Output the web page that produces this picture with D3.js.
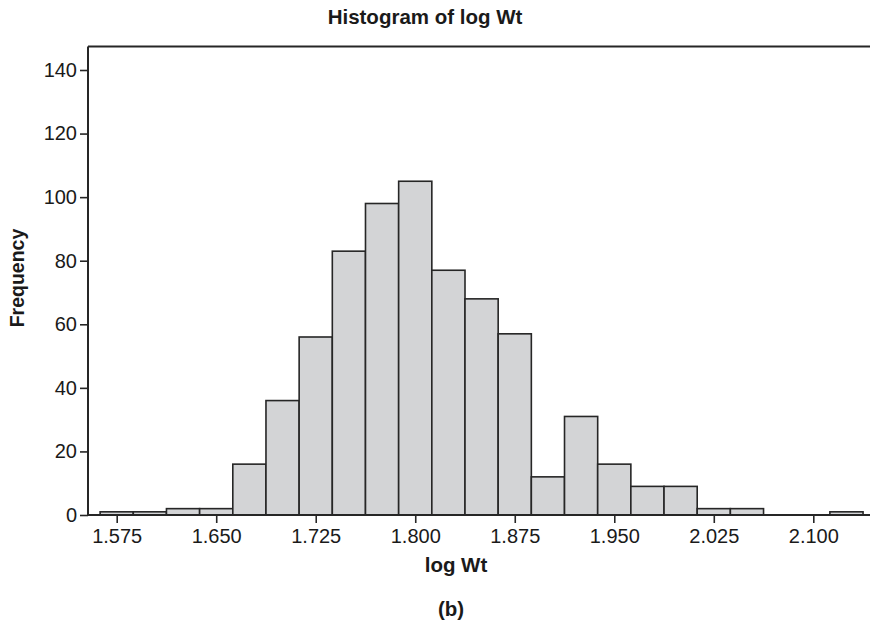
<!DOCTYPE html>
<html><head><meta charset="utf-8">
<script src="https://cdn.jsdelivr.net/npm/d3@7"></script>
<style>body{margin:0;background:#fff}svg{display:block}text{font-family:"Liberation Sans",Arial,Helvetica,sans-serif;fill:#1a1a1a}</style>
</head><body><svg id="c" width="870" height="626"></svg>
<script>
const binCenters = [1.575,1.600,1.625,1.650,1.675,1.700,1.725,1.750,1.775,1.800,1.825,1.850,1.875,1.900,1.925,1.950,1.975,2.000,2.025,2.050,2.075,2.100,2.125];
const frequencies = [1,1,2,2,16,36,56,83,98,105,77,68,57,12,31,16,9,9,2,2,0,0,1];
const xTicks = [1.575,1.650,1.725,1.800,1.875,1.950,2.025,2.100];
const yTicks = [0,20,40,60,80,100,120,140];
const binWidth = 0.025;

const svg = d3.select("#c");
const x = d3.scaleLinear().domain([1.575,2.100]).range([116.7,813.3]);
const y = d3.scaleLinear().domain([0,140]).range([515,70]);
const plotLeft = 88, plotTop = 46.5, plotRight = 870;

// bars
svg.append("g").selectAll("rect").data(binCenters.map((c,i)=>({c,f:frequencies[i]})))
  .join("rect")
  .attr("x", d=>x(d.c-binWidth/2))
  .attr("width", d=>x(d.c+binWidth/2)-x(d.c-binWidth/2))
  .attr("y", d=>y(d.f))
  .attr("height", d=>y(0)-y(d.f))
  .attr("fill","#d3d4d6")
  .attr("stroke","#262626")
  .attr("stroke-width",1.6);

// frame top
svg.append("line").attr("x1",plotLeft).attr("x2",plotRight).attr("y1",plotTop).attr("y2",plotTop)
  .attr("stroke","#262626").attr("stroke-width",2);

// y axis
const ya = svg.append("g").attr("transform",`translate(${plotLeft},0)`)
  .call(d3.axisLeft(y).tickValues(yTicks).tickSize(8).tickPadding(3).tickFormat(d3.format("d")));
ya.select(".domain").remove();
ya.append("line").attr("x1",0).attr("x2",0).attr("y1",plotTop).attr("y2",y(0)+1).attr("stroke","#262626").attr("stroke-width",2);
ya.selectAll(".tick line").attr("stroke","#262626").attr("stroke-width",1.6);
ya.selectAll(".tick text").style("font-size","20px").attr("fill","#1a1a1a");

// x axis
const xa = svg.append("g").attr("transform",`translate(0,${y(0)})`)
  .call(d3.axisBottom(x).tickValues(xTicks).tickSize(8).tickPadding(6).tickFormat(d3.format(".3f")));
xa.select(".domain").remove();
xa.append("line").attr("x1",plotLeft-1).attr("x2",plotRight).attr("y1",0).attr("y2",0).attr("stroke","#262626").attr("stroke-width",2);
xa.selectAll(".tick line").attr("stroke","#262626").attr("stroke-width",1.6);
xa.selectAll(".tick text").style("font-size","20px").attr("fill","#1a1a1a");

// titles
svg.append("text").attr("x",425).attr("y",24).attr("text-anchor","middle")
  .style("font-size","20.5px").style("font-weight","bold").text("Histogram of log Wt");
svg.append("text").attr("x",456).attr("y",572).attr("text-anchor","middle")
  .style("font-size","20.5px").style("font-weight","bold").text("log Wt");
svg.append("text").attr("x",451).attr("y",616).attr("text-anchor","middle")
  .style("font-size","20.5px").style("font-weight","bold").text("(b)");
svg.append("text").attr("transform","translate(24,278) rotate(-90)").attr("text-anchor","middle")
  .style("font-size","19.5px").style("font-weight","bold").text("Frequency");
</script></body></html>
